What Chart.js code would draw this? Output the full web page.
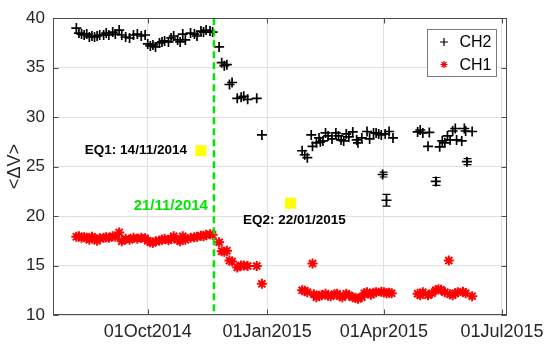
<!DOCTYPE html>
<html><head><meta charset="utf-8">
<script src="https://cdn.jsdelivr.net/npm/chart.js@4"></script>
<style>html,body{margin:0;padding:0;background:#fff}#wrap{width:550px;height:351px}</style>
</head><body><div id="wrap"><canvas id="c" width="550" height="351"></canvas></div>
<script>
// ---------------- data ----------------
const ch2Dates = [
 '2014-08-07','2014-08-09','2014-08-11','2014-08-13','2014-08-15','2014-08-17','2014-08-19','2014-08-21','2014-08-23','2014-08-25',
 '2014-08-28','2014-08-30','2014-09-01','2014-09-04','2014-09-06','2014-09-09','2014-09-11','2014-09-14','2014-09-17','2014-09-20',
 '2014-09-23','2014-09-26','2014-09-29','2014-10-01','2014-10-03','2014-10-05','2014-10-07','2014-10-10','2014-10-12','2014-10-14',
 '2014-10-17','2014-10-19','2014-10-21','2014-10-24','2014-10-26','2014-10-28','2014-10-30','2014-11-03','2014-11-06','2014-11-08',
 '2014-11-11','2014-11-13','2014-11-15','2014-11-18','2014-11-20',
 '2014-11-25','2014-11-27','2014-11-29','2014-12-01','2014-12-03','2014-12-05','2014-12-09','2014-12-12','2014-12-14','2014-12-17',
 '2014-12-24','2014-12-28',
 '2015-01-28','2015-01-30','2015-02-01','2015-02-04','2015-02-05','2015-02-08','2015-02-10','2015-02-11','2015-02-13','2015-02-15',
 '2015-02-17','2015-02-20','2015-02-23','2015-02-25','2015-02-27','2015-03-01','2015-03-03','2015-03-05','2015-03-08','2015-03-11',
 '2015-03-12','2015-03-15','2015-03-19','2015-03-21','2015-03-24','2015-03-26','2015-03-28','2015-03-30','2015-03-31','2015-04-02',
 '2015-04-03','2015-04-05','2015-04-08',
 '2015-04-27','2015-04-29','2015-05-01','2015-05-05','2015-05-06','2015-05-11','2015-05-14','2015-05-16','2015-05-18','2015-05-20',
 '2015-05-22','2015-05-24','2015-05-26','2015-05-27','2015-05-31','2015-06-02','2015-06-03','2015-06-04','2015-06-08'
];
const ch2Values = [
 39.0,38.5,38.4,38.3,38.4,38.1,38.2,38.1,38.2,38.3,
 38.3,38.5,38.3,38.6,38.4,38.8,38.3,38.1,38.0,38.3,
 38.4,38.2,38.3,37.4,37.2,37.3,37.1,37.5,37.6,37.7,
 37.6,38.0,38.2,37.8,37.6,38.4,37.8,38.5,38.4,38.2,
 38.7,38.6,38.8,38.7,38.6,
 37.1,35.5,35.2,35.3,33.3,33.5,31.9,32.0,32.1,31.8,
 31.9,28.2,
 26.6,26.2,25.9,28.2,27.05,27.4,27.9,27.5,27.6,28.4,
 28.1,27.8,28.4,28.1,27.7,27.6,28.3,28.0,28.5,27.7,
 27.4,27.9,28.55,27.8,28.4,28.4,28.3,28.2,24.2,28.3,
 21.6,28.55,27.9,
 28.5,28.7,28.4,27.05,28.45,23.5,27.0,27.6,27.4,28.1,
 27.7,28.6,28.85,27.7,27.6,28.85,28.6,25.5,28.55
];
// half-length of the CH2 error bars (0 = none)
const ch2Errors = {'2015-03-31':0.25,'2015-04-03':0.6,'2015-05-11':0.4,'2015-06-04':0.3};

const ch1Dates = [
 '2014-08-07','2014-08-09','2014-08-11','2014-08-13','2014-08-15','2014-08-17','2014-08-19','2014-08-21','2014-08-23','2014-08-25',
 '2014-08-28','2014-08-30','2014-09-01','2014-09-04','2014-09-06','2014-09-09','2014-09-11','2014-09-14','2014-09-17','2014-09-20',
 '2014-09-23','2014-09-26','2014-09-29','2014-10-01','2014-10-03','2014-10-05','2014-10-07','2014-10-10','2014-10-12','2014-10-14',
 '2014-10-17','2014-10-19','2014-10-21','2014-10-24','2014-10-26','2014-10-28','2014-10-30','2014-11-03','2014-11-06','2014-11-08',
 '2014-11-11','2014-11-13','2014-11-15','2014-11-18','2014-11-20',
 '2014-11-25','2014-11-27','2014-11-29','2014-12-01','2014-12-03','2014-12-05','2014-12-09','2014-12-12','2014-12-14','2014-12-17',
 '2014-12-24','2014-12-28',
 '2015-01-28','2015-01-30','2015-02-01','2015-02-05','2015-02-06','2015-02-08','2015-02-10','2015-02-12','2015-02-15','2015-02-17',
 '2015-02-19','2015-02-22','2015-02-24','2015-02-26','2015-02-28','2015-03-03','2015-03-05','2015-03-08','2015-03-10','2015-03-12',
 '2015-03-15','2015-03-17','2015-03-19','2015-03-22','2015-03-24','2015-03-26','2015-03-30','2015-04-01','2015-04-03','2015-04-05',
 '2015-04-07',
 '2015-04-27','2015-04-29','2015-05-01','2015-05-05','2015-05-08','2015-05-11','2015-05-13','2015-05-15','2015-05-18','2015-05-21',
 '2015-05-22','2015-05-24','2015-05-26','2015-05-28','2015-06-01','2015-06-03','2015-06-08'
];
const ch1Values = [
 17.9,17.95,17.8,17.85,17.8,17.6,17.9,17.75,17.5,17.75,
 17.8,17.85,17.8,17.95,17.9,18.35,17.45,17.7,17.6,17.8,
 17.7,17.8,17.75,17.5,17.35,17.3,17.45,17.5,17.6,17.7,
 17.55,17.7,17.95,17.6,17.45,17.95,17.6,17.8,17.85,17.9,
 18.0,17.95,18.1,18.15,18.1,
 17.35,16.45,16.4,16.5,15.5,15.4,14.8,15.0,15.0,14.95,
 14.95,13.15,
 12.5,12.45,12.3,15.2,12.1,11.8,11.95,12.0,12.15,11.95,
 11.9,12.1,12.15,11.9,11.8,12.15,12.0,11.8,11.75,11.65,
 11.8,12.2,12.3,12.05,12.25,12.3,12.35,12.3,12.2,12.25,
 12.2,
 12.15,12.0,12.3,12.0,12.2,12.5,12.6,12.55,12.3,15.5,
 12.1,12.0,12.2,12.3,12.35,12.2,11.9
];

const xTickDates  = ['2014-10-01','2015-01-01','2015-04-01','2015-07-01'];
const xTickLabels = ['01Oct2014','01Jan2015','01Apr2015','01Jul2015'];
const yTicks = [10,15,20,25,30,35,40];
const xRange = ['2014-07-20','2015-07-05'];
const eventLine = {date:'2014-11-21', label:'21/11/2014', labelValue:21.0};
const eqMarkers = [
 {date:'2014-11-11', value:26.6, label:'EQ1: 14/11/2014'},
 {date:'2015-01-19', value:21.3, label:'EQ2: 22/01/2015'}
];

// ---------------- helpers ----------------
function day(s){const p=s.split('-').map(Number);return Date.UTC(p[0],p[1]-1,p[2])/86400000;}
const FONT = "'Liberation Sans', Arial, Helvetica, sans-serif";
const tickDays = xTickDates.map(day);

const decorPlugin = {
  id:'decor',
  afterDatasetsDraw(chart){
    const ctx = chart.ctx, a = chart.chartArea, xs = chart.scales.x, ys = chart.scales.y;
    ctx.save();
    // error bars
    ctx.strokeStyle = '#000'; ctx.lineWidth = 1.2;
    ch2Dates.forEach((d,i)=>{
      const e = ch2Errors[d]; if(!e) return;
      const px = Math.round(xs.getPixelForValue(day(d)))+0.5;
      const y1 = ys.getPixelForValue(ch2Values[i]-e), y2 = ys.getPixelForValue(ch2Values[i]+e);
      ctx.beginPath();
      ctx.moveTo(px,y1); ctx.lineTo(px,y2);
      ctx.moveTo(px-4,y1); ctx.lineTo(px+4,y1);
      ctx.moveTo(px-4,y2); ctx.lineTo(px+4,y2);
      ctx.stroke();
    });
    // green dashed event line
    const gx = xs.getPixelForValue(day(eventLine.date));
    ctx.strokeStyle = '#00e600'; ctx.lineWidth = 2.5; ctx.setLineDash([7,4]);
    ctx.beginPath(); ctx.moveTo(gx,a.top); ctx.lineTo(gx,a.bottom); ctx.stroke();
    ctx.setLineDash([]);
    ctx.fillStyle = '#00e600'; ctx.font = 'bold 15px '+FONT;
    ctx.textAlign='right'; ctx.textBaseline='middle';
    ctx.fillText(eventLine.label, gx-6, ys.getPixelForValue(eventLine.labelValue));
    // earthquake markers
    eqMarkers.forEach((m,i)=>{
      const mx = xs.getPixelForValue(day(m.date)), my = ys.getPixelForValue(m.value);
      ctx.fillStyle = '#ffff00';
      ctx.fillRect(mx-5.5,my-5.5,11,11);
      ctx.fillStyle = '#000'; ctx.font = 'bold 13.5px '+FONT; ctx.textBaseline='middle';
      if(i===0){ctx.textAlign='right'; ctx.fillText(m.label, mx-14, my);}
      else {ctx.textAlign='center'; ctx.fillText(m.label, mx+4, my+17);}
    });
    // box + inward ticks
    ctx.strokeStyle = '#4d4d4d'; ctx.lineWidth = 1;
    const L=Math.round(a.left)+0.5, R=Math.round(a.right)-0.5, T=Math.round(a.top)+0.5, B=Math.round(a.bottom)-0.5;
    ctx.strokeRect(L,T,R-L,B-T);
    ctx.beginPath();
    tickDays.forEach(v=>{const px=Math.round(xs.getPixelForValue(v))+0.5; if(px<L||px>R) return;
      ctx.moveTo(px,B); ctx.lineTo(px,B-5); ctx.moveTo(px,T); ctx.lineTo(px,T+5);});
    yTicks.forEach(v=>{const py=Math.round(ys.getPixelForValue(v))+0.5;
      ctx.moveTo(L,py); ctx.lineTo(L+5,py); ctx.moveTo(R,py); ctx.lineTo(R-5,py);});
    ctx.stroke();
    // legend
    const bw=69, bh=47, bx=Math.round(a.right)-79.5, by=Math.round(a.top)+11.5;
    ctx.fillStyle='#fff'; ctx.fillRect(bx,by,bw,bh);
    ctx.strokeStyle='#7a7a7a'; ctx.lineWidth=1; ctx.strokeRect(bx,by,bw,bh);
    chart.data.datasets.forEach((ds,i)=>{
      const ly = by+12.5+i*22.5, lx = bx+16.5;
      ctx.strokeStyle = ds.borderColor; ctx.lineWidth = 1.2;
      ctx.beginPath();
      if(ds.pointStyle==='cross'){
        ctx.moveTo(lx-4,ly); ctx.lineTo(lx+4,ly); ctx.moveTo(lx,ly-4); ctx.lineTo(lx,ly+4);
      } else {
        const r=3.5, k=r*0.7071;
        ctx.moveTo(lx-r,ly); ctx.lineTo(lx+r,ly); ctx.moveTo(lx,ly-r); ctx.lineTo(lx,ly+r);
        ctx.moveTo(lx-k,ly-k); ctx.lineTo(lx+k,ly+k); ctx.moveTo(lx-k,ly+k); ctx.lineTo(lx+k,ly-k);
      }
      ctx.stroke();
      ctx.fillStyle='#000'; ctx.font='16px '+FONT; ctx.textAlign='left'; ctx.textBaseline='middle';
      ctx.fillText(ds.label, bx+32, ly+1);
    });
    ctx.restore();
  }
};

new Chart(document.getElementById('c'), {
  type:'scatter',
  data:{datasets:[
    {label:'CH2', data: ch2Dates.map((d,i)=>({x:day(d),y:ch2Values[i]})),
     pointStyle:'cross', pointRadius:5, borderColor:'#000000', backgroundColor:'#000000', borderWidth:1.7, showLine:false},
    {label:'CH1', data: ch1Dates.map((d,i)=>({x:day(d),y:ch1Values[i]})),
     pointStyle:'star', pointRadius:5, borderColor:'#ff0000', backgroundColor:'#ff0000', borderWidth:2, showLine:false}
  ]},
  options:{
    responsive:false, animation:false, devicePixelRatio:1,
    layout:{padding:{left:0,right:42,top:13,bottom:0}},
    plugins:{legend:{display:false}, tooltip:{enabled:false}},
    scales:{
      x:{type:'linear', min:day(xRange[0]), max:day(xRange[1]),
        afterBuildTicks:s=>{s.ticks = tickDays.map(v=>({value:v}));},
        afterFit:s=>{s.height=36;},
        ticks:{autoSkip:false, maxRotation:0, padding:6, color:'#262626', font:{family:FONT,size:18},
          callback:v=>{const i=tickDays.indexOf(v);return i>=0?xTickLabels[i]:'';}},
        grid:{color:'#e0e0e0', drawTicks:false}, border:{display:false}},
      y:{min:10, max:40,
        afterBuildTicks:s=>{s.ticks = yTicks.map(v=>({value:v}));},
        afterFit:s=>{s.width=53;},
        ticks:{padding:8, color:'#262626', font:{family:FONT,size:17}},
        title:{display:true, text:'<ΔV>', color:'#262626', font:{family:FONT,size:18}, padding:{top:4,bottom:0}},
        grid:{color:'#e0e0e0', drawTicks:false}, border:{display:false}}
    }
  },
  plugins:[decorPlugin]
});
</script></body></html>
